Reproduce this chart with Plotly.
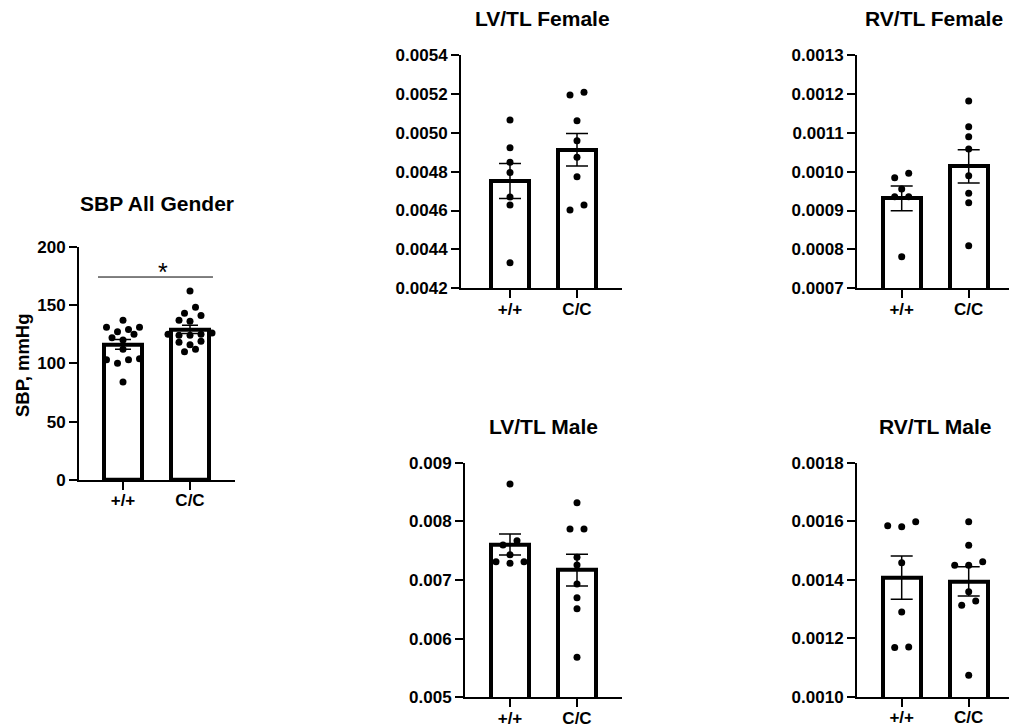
import numpy as np
import plotly.graph_objects as go

# ---------------- data ----------------
groups = ["+/+", "C/C"]

sbp_wt = [137, 131, 131, 129, 127, 125, 122, 120, 112, 104, 103, 103, 100, 84]
sbp_cc = [162, 148, 143, 141, 137, 136, 126, 125, 125, 124, 124, 119, 118, 116, 112, 110]

lvf_wt = [0.005066, 0.004923, 0.004848, 0.004795, 0.004670, 0.004629, 0.004332]
lvf_cc = [0.005194, 0.005208, 0.005062, 0.004959, 0.004874, 0.004774, 0.004603, 0.004629]

rvf_wt = [0.0009846, 0.0009957, 0.0009554, 0.0009357, 0.0009357, 0.0007814]
rvf_cc = [0.0011817, 0.0011157, 0.0010900, 0.0010583, 0.0009897, 0.0009443, 0.0009203, 0.0008097]

lvm_wt = [0.008636, 0.007670, 0.007597, 0.007430, 0.007310, 0.007285, 0.007310]
lvm_cc = [0.008318, 0.007869, 0.007869, 0.007386, 0.007256, 0.006932, 0.006699, 0.006511, 0.005682]

rvm_wt = [0.0015812, 0.0015983, 0.0015846, 0.0014581, 0.0012906, 0.0011687, 0.0011709]
rvm_cc = [0.0015983, 0.0015185, 0.0014501, 0.0014615, 0.0014501, 0.0013590, 0.0013134, 0.0013282, 0.0010741]

titles = ["SBP All Gender", "LV/TL Female", "RV/TL Female", "LV/TL Male", "RV/TL Male"]
sbp_axis_title = "SBP, mmHg"
sig_text = "*"
sig_level = 174

# ---------------- layout geometry (pixels) ----------------
W, H = 1009, 727
FONT = "Liberation Sans, Arial, sans-serif"

panels = [
    dict(title=titles[0], wt=sbp_wt, cc=sbp_cc, ymin=0, ymax=200, dtick=50, fmt="{:.0f}",
         left=79, right=235, c0=123, top=246.7, bottom=480, ttl_x=157, ttl_y=203, spread=11, cap=8),
    dict(title=titles[1], wt=lvf_wt, cc=lvf_cc, ymin=0.0042, ymax=0.0054, dtick=0.0002, fmt="{:.4f}",
         left=461, right=622, c0=510, top=55, bottom=288.3, ttl_x=542, ttl_y=18, spread=14, cap=11),
    dict(title=titles[2], wt=rvf_wt, cc=rvf_cc, ymin=0.0007, ymax=0.0013, dtick=0.0001, fmt="{:.4f}",
         left=857, right=1009, c0=901.7, top=55, bottom=288.3, ttl_x=934, ttl_y=18, spread=14, cap=11),
    dict(title=titles[3], wt=lvm_wt, cc=lvm_cc, ymin=0.005, ymax=0.009, dtick=0.001, fmt="{:.3f}",
         left=465, right=622, c0=510, top=462.7, bottom=697.3, ttl_x=543.5, ttl_y=426, spread=14, cap=11),
    dict(title=titles[4], wt=rvm_wt, cc=rvm_cc, ymin=0.0010, ymax=0.0018, dtick=0.0002, fmt="{:.4f}",
         left=857, right=1009, c0=901.7, top=462.7, bottom=697, ttl_x=935, ttl_y=426, spread=14, cap=11),
]
UNIT = 67.0        # px between the two group centres
BAR_W = 0.57       # bar width in category units
ROW_DY = 6.5       # px: points closer than this vertically share a row


def swarm(vals, px_per_val, spread):
    vals = np.asarray(vals, dtype=float)
    order = np.argsort(vals)
    rows, cur = [], []
    for i in order:
        if cur and (vals[i] - vals[cur[0]]) * px_per_val >= ROW_DY:
            rows.append(cur)
            cur = []
        cur.append(i)
    rows.append(cur)
    off = np.zeros(len(vals))
    for row in rows:
        k = len(row)
        slots = [(j - (k - 1) / 2) * spread for j in range(k)]
        slots = sorted(slots, key=lambda s: (abs(s), s))
        for idx, s in zip(row, slots):
            off[idx] = s
    return off


fig = go.Figure()
annotations = []
tickfont = dict(family=FONT, size=17, color="black", weight="bold")

for n, p in enumerate(panels):
    sfx = "" if n == 0 else str(n + 1)
    xa, ya = "x" + sfx, "y" + sfx
    px_per_val = (p["bottom"] - p["top"]) / (p["ymax"] - p["ymin"])

    means = [np.mean(p["wt"]), np.mean(p["cc"])]
    sems = [np.std(p["wt"], ddof=1) / np.sqrt(len(p["wt"])),
            np.std(p["cc"], ddof=1) / np.sqrt(len(p["cc"]))]

    fig.add_trace(go.Bar(
        x=[0, 1], y=means, width=BAR_W, xaxis=xa, yaxis=ya,
        marker=dict(color="white", line=dict(color="black", width=4)),
        error_y=dict(type="data", array=sems, visible=True, color="black",
                     thickness=1.5, width=p["cap"]),
        hoverinfo="skip", showlegend=False))

    for g, vals in enumerate([p["wt"], p["cc"]]):
        off = swarm(vals, px_per_val, p["spread"])
        fig.add_trace(go.Scatter(
            x=g + off / UNIT, y=vals, mode="markers", xaxis=xa, yaxis=ya,
            marker=dict(color="black", size=7), hoverinfo="skip", showlegend=False,
            cliponaxis=False))

    xr = [(p["left"] - p["c0"]) / UNIT, (p["right"] - p["c0"]) / UNIT]
    nt = int(round((p["ymax"] - p["ymin"]) / p["dtick"]))
    tv = [p["ymin"] + i * p["dtick"] for i in range(nt + 1)]
    common = dict(showline=True, linecolor="black", linewidth=2, ticks="outside",
                  ticklen=8, tickwidth=2, tickcolor="black", showgrid=False,
                  zeroline=False, tickfont=tickfont, fixedrange=True, automargin=False)
    fig.layout["xaxis" + sfx] = dict(
        domain=[p["left"] / W, min(p["right"] / W, 1.0)], range=xr, anchor=ya,
        tickmode="array", tickvals=[0, 1], ticktext=groups, ticklabelstandoff=-4,
        **common)
    fig.layout["yaxis" + sfx] = dict(
        domain=[1 - p["bottom"] / H, 1 - p["top"] / H], range=[p["ymin"], p["ymax"]],
        anchor=xa, tickmode="array", tickvals=tv,
        ticktext=[p["fmt"].format(v) for v in tv], **common)

    annotations.append(dict(
        text=p["title"], xref="paper", yref="paper",
        x=p["ttl_x"] / W, y=1 - p["ttl_y"] / H, xanchor="center", yanchor="middle",
        showarrow=False,
        font=dict(family=FONT, size=21, color="black", weight="bold")))

# significance bracket on SBP panel
fig.add_shape(type="line", xref="x", yref="y", x0=-0.373, x1=1.343,
              y0=sig_level, y1=sig_level, line=dict(color="black", width=1))
annotations.append(dict(text=sig_text, xref="x", yref="y", x=0.597, y=sig_level,
                        xanchor="center", yanchor="bottom", showarrow=False, yshift=-11,
                        font=dict(family=FONT, size=25, color="black")))
# SBP y-axis title
annotations.append(dict(text=sbp_axis_title, xref="paper", yref="paper",
                        x=22 / W, y=1 - 365 / H, xanchor="center", yanchor="middle",
                        textangle=-90, showarrow=False,
                        font=dict(family=FONT, size=18.5, color="black", weight="bold")))

fig.update_layout(width=W, height=H, margin=dict(l=0, r=0, t=0, b=0, autoexpand=False),
                  paper_bgcolor="white", plot_bgcolor="white", showlegend=False,
                  annotations=annotations, bargap=0)

fig.write_html("out.html", config={"displayModeBar": False})

# remove the browser's default 8px body margin so the figure sits at (0, 0)
with open("out.html", "r", encoding="utf-8") as f:
    html = f.read()
html = html.replace("<body>", '<body style="margin:0;padding:0;overflow:hidden">', 1)
with open("out.html", "w", encoding="utf-8") as f:
    f.write(html)
